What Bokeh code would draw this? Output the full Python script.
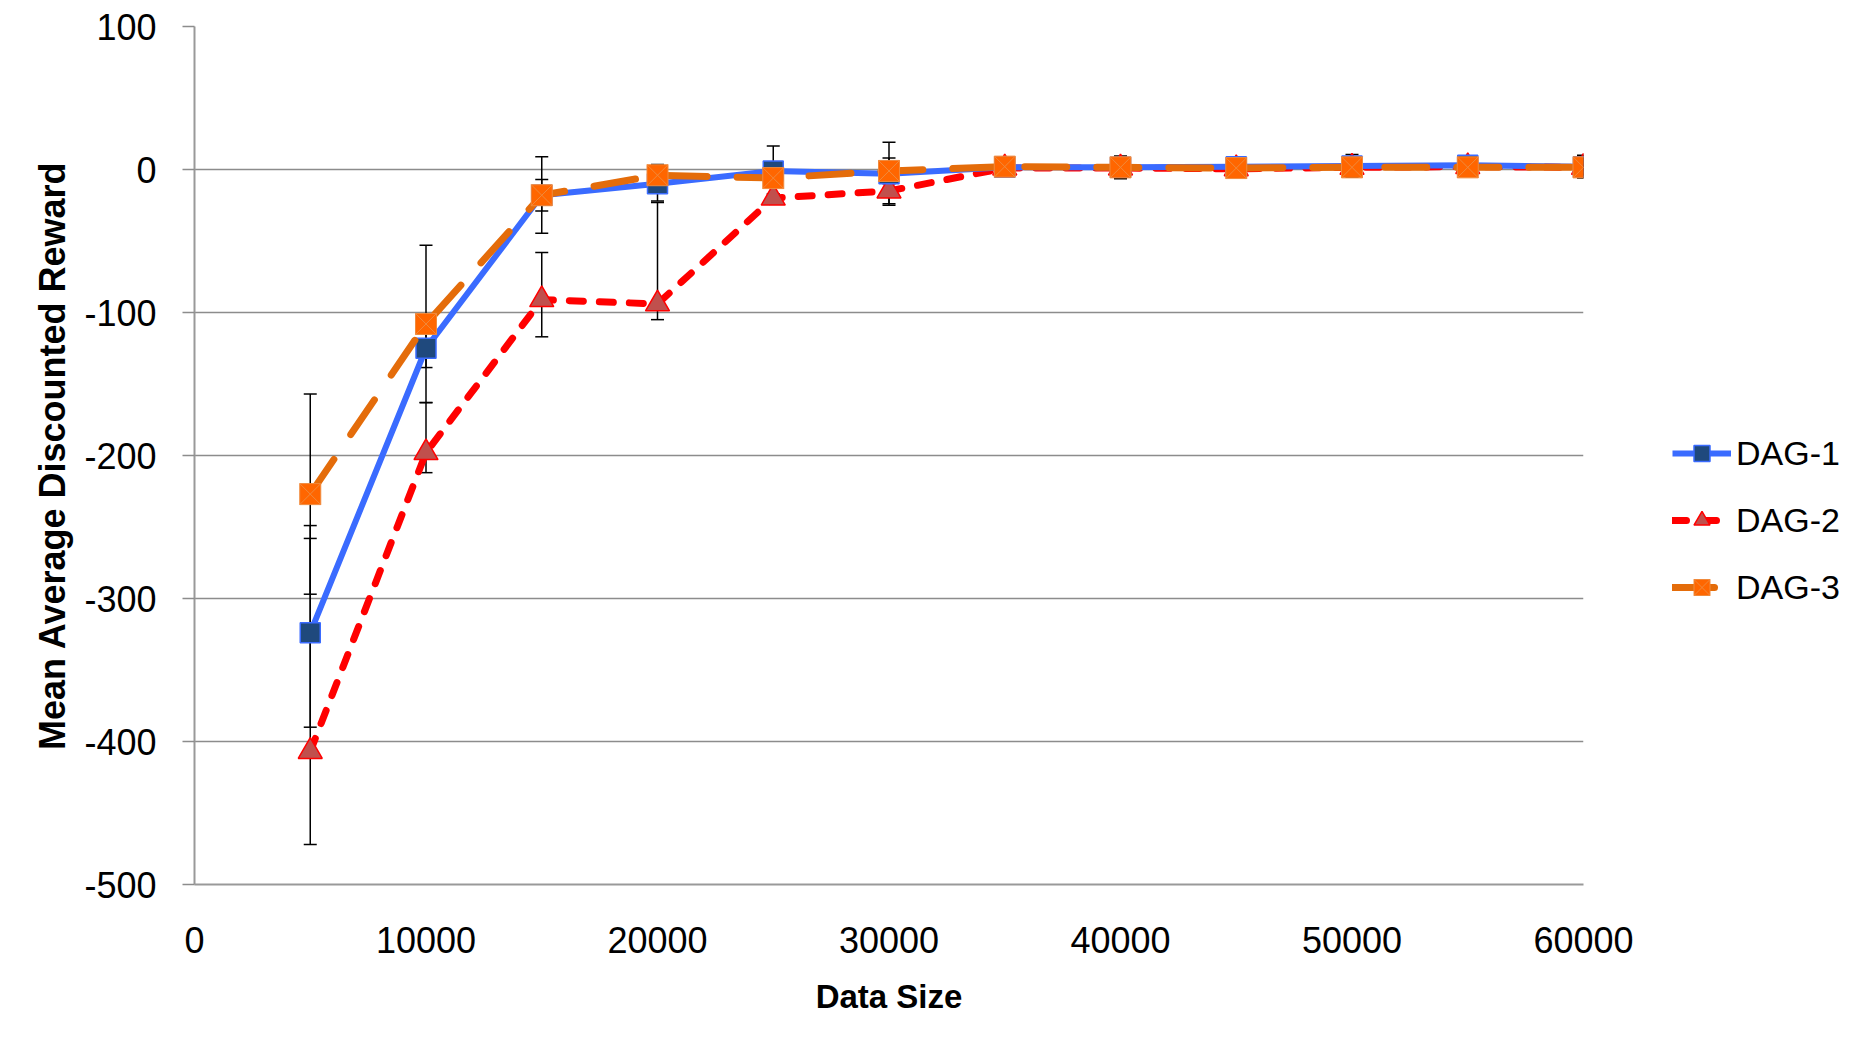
from bokeh.plotting import figure
from bokeh.models import (ColumnDataSource, Whisker, Legend, LegendItem, Range1d,
                          FixedTicker, TeeHead, PrintfTickFormatter)
from bokeh.embed import file_html
from bokeh.resources import INLINE

# ---------------- data ----------------
data_size = [5000, 10000, 15000, 20000, 25000, 30000, 35000, 40000, 45000, 50000, 55000, 60000]

dag1 = [-324, -125, -18, -10, -1, -3, 1.5, 1.5, 2, 2.5, 3, 2]
dag1_err_plus = [66, 13.5, 11, 13.5, 17.5, 22, 5, 8, 6, 8, 6, 8]
dag1_err_minus = [66, 13.5, 11, 12, 17, 21, 5, 8, 6, 8, 6, 8]

dag2 = [-407, -198, -91, -94, -20, -15, 1, 1, 0.5, 1.5, 2, 1.5]
dag2_err_plus = [158, 35, 33, 71, 3, 10, 1.5, 1.5, 1.5, 1.5, 1.5, 1.5]
dag2_err_minus = [65, 14, 26, 11, 3, 10, 1.5, 1.5, 1.5, 1.5, 1.5, 1.5]

dag3 = [-227, -108, -18, -4, -6, -1, 2, 1.5, 1, 1.5, 1.5, 1.5]
dag3_err_plus = [70, 55, 27, 4, 4, 9, 1, 1, 1, 1, 1, 1]
dag3_err_minus = [70, 55, 26.5, 4, 4, 9, 1, 1, 1, 1, 1, 1]

x_ticks = [0, 10000, 20000, 30000, 40000, 50000, 60000]
y_ticks = [-500, -400, -300, -200, -100, 0, 100]
series_names = ["DAG-1", "DAG-2", "DAG-3"]

# ---------------- figure ----------------
p = figure(frame_width=1389, frame_height=858,
           min_border_left=194, min_border_right=275,
           min_border_top=26, min_border_bottom=150,
           x_range=Range1d(0, 60000), y_range=Range1d(-500, 100),
           output_backend="svg", toolbar_location=None)
p.outline_line_color = None
p.background_fill_color = "white"
p.border_fill_color = "white"

p.xgrid.grid_line_color = None
p.ygrid.grid_line_color = "#8c8c8c"
p.ygrid.grid_line_width = 1.5
p.ygrid.ticker = FixedTicker(ticks=y_ticks)

p.xaxis.ticker = FixedTicker(ticks=x_ticks)
p.yaxis.ticker = FixedTicker(ticks=y_ticks)
p.xaxis.formatter = PrintfTickFormatter(format="%d")
p.yaxis.formatter = PrintfTickFormatter(format="%d")

for ax in (p.xaxis, p.yaxis):
    ax.axis_line_color = "#999999"
    ax.axis_line_width = 2
    ax.major_tick_line_color = "#8c8c8c"
    ax.major_tick_line_width = 1.5
    ax.minor_tick_line_color = None
    ax.major_label_text_font = "Liberation Sans"
    ax.major_label_text_font_size = "36px"
    ax.major_label_text_color = "black"
    ax.axis_label_text_font = "Liberation Sans"
    ax.axis_label_text_font_style = "bold"
    ax.axis_label_text_color = "black"

p.xaxis.major_tick_out = 0
p.xaxis.major_tick_in = 0
p.xaxis.major_label_standoff = 42
p.xaxis.axis_label = "Data Size"
p.xaxis.axis_label_text_font_size = "33px"
p.xaxis.axis_label_standoff = 22

p.yaxis.major_tick_out = 12
p.yaxis.major_tick_in = 0
p.yaxis.major_label_standoff = 26
p.yaxis.axis_label = "Mean Average Discounted Reward"
p.yaxis.axis_label_text_font_size = "36px"
p.yaxis.axis_label_standoff = 8


def make_src(y, ep, em):
    return ColumnDataSource(dict(
        x=data_size, y=y,
        upper=[a + b for a, b in zip(y, ep)],
        lower=[a - b for a, b in zip(y, em)],
    ))


src1 = make_src(dag1, dag1_err_plus, dag1_err_minus)
src2 = make_src(dag2, dag2_err_plus, dag2_err_minus)
src3 = make_src(dag3, dag3_err_plus, dag3_err_minus)

# error bars
for src in (src2, src1, src3):
    w = Whisker(base="x", upper="upper", lower="lower", source=src,
                line_color="black", line_width=1.5, level="underlay",
                upper_head=TeeHead(size=13, line_color="black", line_width=1.5),
                lower_head=TeeHead(size=13, line_color="black", line_width=1.5))
    p.add_layout(w)

# DAG-2 (bottom)
l2 = p.line("x", "y", source=src2, line_color="#ff0000", line_width=7,
            line_dash="14 16", line_cap="round")
m2 = p.scatter("x", "y", source=src2, marker="triangle", size=24,
               fill_color="#c0504d", line_color="#ff0000", line_width=1.5)

# DAG-1
l1 = p.line("x", "y", source=src1, line_color="#3a6bff", line_width=6)
m1 = p.scatter("x", "y", source=src1, marker="square", size=20,
               fill_color="#1f497d", line_color="#3a6bff", line_width=1.5)

# DAG-3 (top)
l3 = p.line("x", "y", source=src3, line_color="#e46c0a", line_width=7,
            line_dash="42 30", line_cap="round")
m3 = p.scatter("x", "y", source=src3, marker="square_x", size=21,
               fill_color="#ff6600", line_color="#f08a3c", line_width=1)

legend = Legend(items=[
    LegendItem(label=series_names[0], renderers=[l1, m1]),
    LegendItem(label=series_names[1], renderers=[l2, m2]),
    LegendItem(label=series_names[2], renderers=[l3, m3]),
], location=(89, 277))
legend.border_line_color = None
legend.background_fill_alpha = 0
legend.padding = 0
legend.margin = 0
legend.glyph_width = 59
legend.glyph_height = 40
legend.label_height = 40
legend.spacing = 27
legend.label_standoff = 5
legend.label_text_font = "Liberation Sans"
legend.label_text_font_size = "34px"
legend.label_text_color = "black"
p.add_layout(legend, "right")

open("out.html", "w").write(file_html(p, INLINE))
